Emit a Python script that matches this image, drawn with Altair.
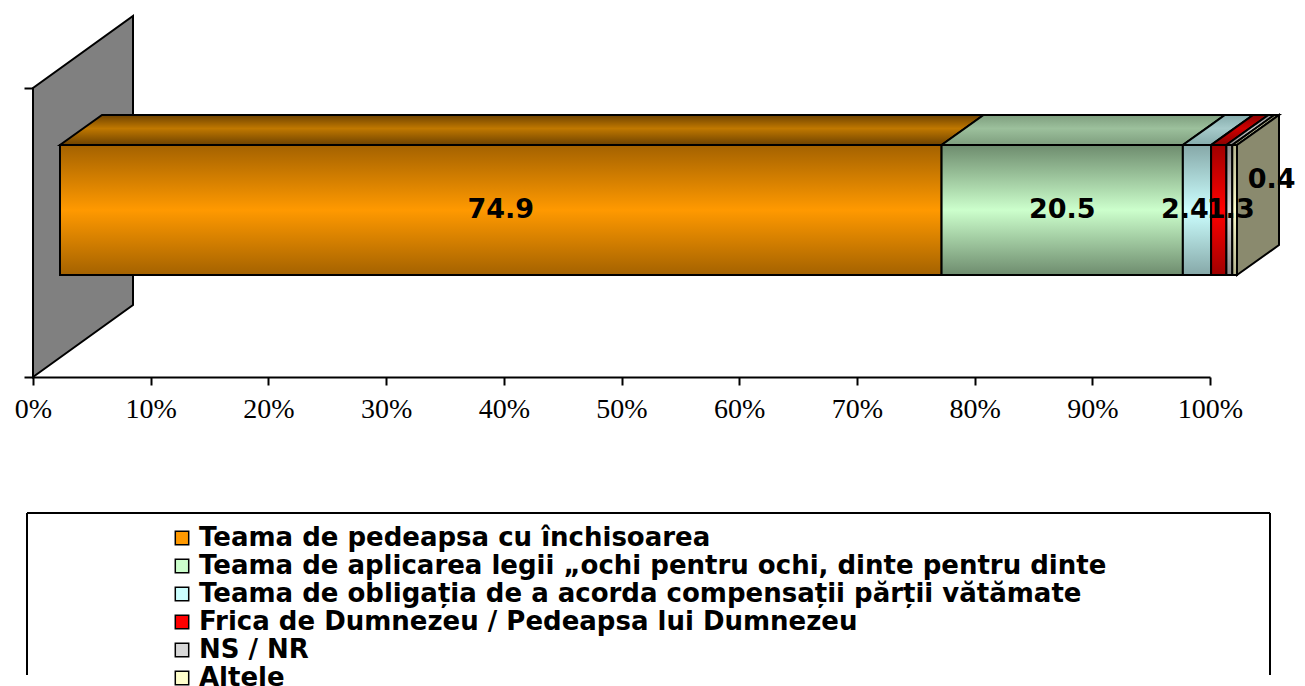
import altair as alt
import pandas as pd

# ---------------- data ----------------
categories = [
    "Teama de pedeapsa cu închisoarea",
    "Teama de aplicarea legii „ochi pentru ochi, dinte pentru dinte",
    "Teama de obligația de a acorda compensații părții vătămate",
    "Frica de Dumnezeu / Pedeapsa lui Dumnezeu",
    "NS / NR",
    "Altele",
]
values = [74.9, 20.5, 2.4, 1.3, 0.5, 0.4]
value_labels = ["74.9", "20.5", "2.4", "1.3", "", "0.4"]
x_ticks = [0, 10, 20, 30, 40, 50, 60, 70, 80, 90, 100]

# ---------------- styles ----------------
mid_colors = ["#FF9900", "#CCFFCC", "#CCFFFF", "#FF0000", "#D8D8D8", "#FFFFCC"]
edge_colors = ["#A46200", "#6E8C6E", "#86A8A8", "#A00000", "#8C8C8C", "#B4B48E"]
top_dark = ["#6E4200", "#7E9E7E", "#86ACAC", "#8A0000", "#8C8C8C", "#A6A682"]
top_light = ["#C07800", "#9CC09C", "#A6CACA", "#D00000", "#C8C8C8", "#E6E6B8"]
label_dx = [0, 0, -12, 12, 0, 37]
label_dy = [0, 0, 0, 0, 0, -30]
side_color = "#8A8A6E"
wall_color = "#808080"

W, H = 1177, 362           # plot area in px (y units are px above the axis)
PX = W / 100.0             # px per percent
OFF = 27 / PX              # front face shift (3-D gap)
DX, DY = 42 / PX, 30       # bar depth
FB, FT = 102, 232          # front face bottom / top
WX, WY, WT = 100 / PX, 72, 289  # wall depth and height

FONT = "DejaVu Sans"

starts = []
acc = 0.0
for v in values:
    starts.append(acc)
    acc += v
ends = [s + v for s, v in zip(starts, values)]

xs = alt.Scale(domain=[0, 100], nice=False, zero=False)
ys = alt.Scale(domain=[0, H], nice=False, zero=False)

def grad(stops, vertical=True):
    return alt.Gradient(
        gradient="linear",
        stops=[alt.GradientStop(color=c, offset=o) for o, c in stops],
        x1=0, x2=0 if vertical else 1, y1=0, y2=1 if vertical else 0,
    )

layers = []

# back wall
wall_df = pd.DataFrame({"x": [0, WX], "y": [0, WY], "y2": [WT, WT + WY]})
layers.append(
    alt.Chart(wall_df).mark_area(fill=wall_color, stroke="black", strokeWidth=2, orient="vertical")
    .encode(x=alt.X("x:Q", scale=xs), y=alt.Y("y:Q", scale=ys), y2="y2:Q")
)

# top faces
def top_points(a, b):
    a0, b0 = a + OFF, b + OFF
    def lower(x):
        return FT if x <= b0 else FT + DY * min(1.0, (x - b0) / DX)
    def upper(x):
        return FT + DY * min(1.0, max(0.0, (x - a0) / DX))
    xs_ = sorted({a0, a0 + DX, b0, b0 + DX})
    return [(x, lower(x), upper(x)) for x in xs_]

for i, cat in enumerate(categories):
    pts = top_points(starts[i], ends[i])
    df = pd.DataFrame({"x": [p[0] for p in pts], "y": [p[1] for p in pts],
                       "y2": [p[2] for p in pts]})
    layers.append(
        alt.Chart(df).mark_area(
            fill=grad([(0, top_dark[i]), (0.45, top_light[i]), (1, top_dark[i])]),
            stroke="black", strokeWidth=2, orient="vertical")
        .encode(x=alt.X("x:Q", scale=xs), y=alt.Y("y:Q", scale=ys), y2="y2:Q")
    )

# right side face
side_df = pd.DataFrame({"x": [ends[-1] + OFF, ends[-1] + OFF + DX],
                        "y": [FB, FB + DY], "y2": [FT, FT + DY]})
layers.append(
    alt.Chart(side_df).mark_area(fill=side_color, stroke="black", strokeWidth=2, orient="vertical")
    .encode(x=alt.X("x:Q", scale=xs), y=alt.Y("y:Q", scale=ys), y2="y2:Q")
)

# front faces
for i, cat in enumerate(categories):
    df = pd.DataFrame({"x": [starts[i] + OFF], "x2": [ends[i] + OFF], "y": [FB], "y2": [FT]})
    layers.append(
        alt.Chart(df).mark_rect(
            fill=grad([(0, edge_colors[i]), (0.5, mid_colors[i]), (1, edge_colors[i])]),
            stroke="black", strokeWidth=2)
        .encode(x=alt.X("x:Q", scale=xs), x2="x2:Q", y=alt.Y("y:Q", scale=ys), y2="y2:Q")
    )

# value labels
for i, t in enumerate(value_labels):
    if not t:
        continue
    df = pd.DataFrame({"x": [(starts[i] + ends[i]) / 2 + OFF], "y": [(FB + FT) / 2], "t": [t]})
    layers.append(
        alt.Chart(df).mark_text(font=FONT, fontSize=27, fontWeight="bold", color="black",
                                dx=label_dx[i], dy=label_dy[i])
        .encode(x=alt.X("x:Q", scale=xs), y=alt.Y("y:Q", scale=ys), text="t:N")
    )

# axes (carried by an invisible layer)
axis_df = pd.DataFrame({"x": [0, 100], "y": [0, H]})
layers.append(
    alt.Chart(axis_df).mark_point(opacity=0)
    .encode(
        x=alt.X("x:Q", scale=xs, title=None,
                axis=alt.Axis(values=x_ticks, labelExpr="datum.value + '%'", grid=False,
                              labelFont="Liberation Serif", labelFontSize=28, labelColor="black",
                              labelPadding=10, tickSize=8, tickWidth=2, tickColor="black",
                              domainColor="black", domainWidth=2, labelFlush=False)),
        y=alt.Y("y:Q", scale=ys, title=None,
                axis=alt.Axis(values=[0, WT], labels=False, domain=False, grid=False,
                              tickSize=9, tickWidth=2, tickColor="black")),
    )
)

# legend (manual)
LEG_TOP = -136
leg_df = pd.DataFrame({
    "cat": categories,
    "i": list(range(len(categories))),
    "col": mid_colors,
})
leg_df["y"] = -161 - 28 * leg_df["i"]
leg_df["xs"] = 149 / PX
leg_df["xt"] = 166 / PX

box_df = pd.DataFrame({
    "x": [-6 / PX, -6 / PX, 1237 / PX],
    "x2": [1237 / PX, -6 / PX, 1237 / PX],
    "y": [LEG_TOP, LEG_TOP, LEG_TOP],
    "y2": [LEG_TOP, -298, -298],
})
layers.append(
    alt.Chart(box_df).mark_rule(color="black", strokeWidth=2)
    .encode(x=alt.X("x:Q", scale=xs), x2="x2:Q", y=alt.Y("y:Q", scale=ys), y2="y2:Q")
)
layers.append(
    alt.Chart(leg_df).mark_square(size=180, stroke="black", strokeWidth=1.5, opacity=1)
    .encode(x=alt.X("xs:Q", scale=xs), y=alt.Y("y:Q", scale=ys),
            fill=alt.Fill("col:N", scale=None))
)
layers.append(
    alt.Chart(leg_df).mark_text(font=FONT, fontSize=26, fontWeight="bold", align="left",
                                baseline="middle", color="black")
    .encode(x=alt.X("xt:Q", scale=xs), y=alt.Y("y:Q", scale=ys), text="cat:N")
)

chart = (
    alt.layer(*layers)
    .properties(width=W, height=H, padding={"left": 6, "top": 4, "right": 0, "bottom": 0})
    .configure_view(stroke=None)
)

chart.save("out.html", embed_options={"renderer": "svg", "actions": False})
